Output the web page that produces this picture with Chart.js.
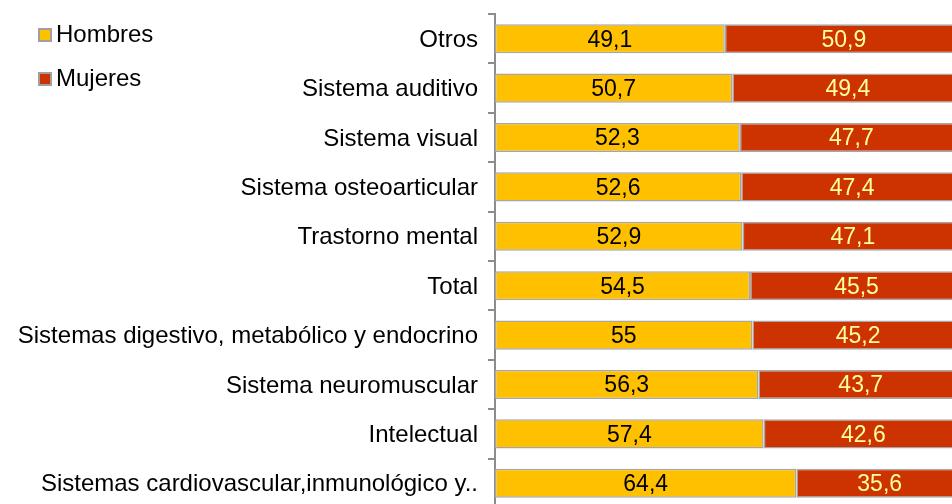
<!DOCTYPE html>
<html>
<head>
<meta charset="utf-8">
<script src="https://cdn.jsdelivr.net/npm/chart.js@4/dist/chart.umd.min.js"></script>
<style>
  html, body { margin: 0; padding: 0; background: #fff; overflow: hidden; }
  #wrap { position: relative; width: 952px; height: 504px; overflow: hidden; }
  #box { position: absolute; left: 0; top: 0; width: 964px; height: 508px; }
  .leg { position: absolute; left: 38px; font: 24px "Liberation Sans", Arial, sans-serif; color: #000; line-height: 1; white-space: nowrap; }
  .leg span.sw { display: inline-block; width: 14px; height: 14px; border: 2px solid #a0a0a0; box-sizing: border-box; margin-right: 4px; vertical-align: 0px; }
</style>
</head>
<body>
<div id="wrap">
  <div id="box"><canvas id="c" width="964" height="508"></canvas></div>
  <div class="leg" style="top:22px"><span class="sw" style="background:#FFC000"></span>Hombres</div>
  <div class="leg" style="top:66px"><span class="sw" style="background:#CC3300"></span>Mujeres</div>
</div>
<script>
const categories = [
  "Otros",
  "Sistema auditivo",
  "Sistema visual",
  "Sistema osteoarticular",
  "Trastorno mental",
  "Total",
  "Sistemas digestivo, metabólico y endocrino",
  "Sistema neuromuscular",
  "Intelectual",
  "Sistemas cardiovascular,inmunológico y.."
];
const hombres = [49.1, 50.7, 52.3, 52.6, 52.9, 54.5, 55, 56.3, 57.4, 64.4];
const mujeres = [50.9, 49.4, 47.7, 47.4, 47.1, 45.5, 45.2, 43.7, 42.6, 35.6];

const FONT = '"Liberation Sans", Arial, sans-serif';

const labelPlugin = {
  id: 'barLabels',
  afterDatasetsDraw(chart) {
    const ctx = chart.ctx;
    ctx.save();
    ctx.font = '23px ' + FONT;
    ctx.textAlign = 'center';
    ctx.textBaseline = 'middle';
    chart.data.datasets.forEach((ds, di) => {
      const meta = chart.getDatasetMeta(di);
      meta.data.forEach((bar, i) => {
        const p = bar.getProps(['x', 'y', 'base'], true);
        const cx = (p.x + p.base) / 2;
        ctx.fillStyle = di === 0 ? '#000000' : '#FFFFA0';
        ctx.fillText(String(ds.data[i]).replace('.', ','), cx, p.y + 1.5);
      });
    });
    ctx.restore();
  }
};

new Chart(document.getElementById('c'), {
  type: 'bar',
  data: {
    labels: categories,
    datasets: [
      { label: 'Hombres', data: hombres, backgroundColor: '#FFC000', borderColor: '#A6A6A6', borderWidth: 1.5, borderSkipped: false },
      { label: 'Mujeres', data: mujeres, backgroundColor: '#CC3300', borderColor: '#A6A6A6', borderWidth: 1.5, borderSkipped: false }
    ]
  },
  options: {
    indexAxis: 'y',
    responsive: false,
    animation: false,
    events: [],
    layout: { padding: { left: 0, right: 1, top: 14, bottom: 0 } },
    datasets: { bar: { categoryPercentage: 1, barPercentage: 0.59 } },
    plugins: { legend: { display: false }, tooltip: { enabled: false } },
    scales: {
      x: { stacked: true, display: false, min: 0, max: 100 },
      y: {
        stacked: true,
        afterFit(scale) { scale.width = 495; scale.paddingTop = 0; scale.paddingBottom = 0; },
        border: { display: true, color: '#8c8c8c', width: 2 },
        grid: { display: true, drawOnChartArea: false, drawTicks: true, tickLength: 7, color: '#8c8c8c', lineWidth: 2, offset: true },
        ticks: { color: '#000', font: { family: FONT, size: 24 }, padding: 10, labelOffset: 1.5, autoSkip: false }
      }
    }
  },
  plugins: [labelPlugin]
});
</script>
</body>
</html>
